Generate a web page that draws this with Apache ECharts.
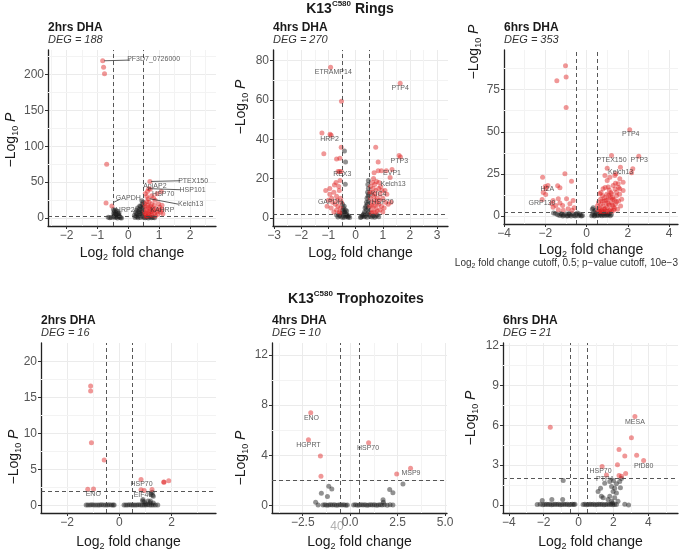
<!DOCTYPE html>
<html>
<head>
<meta charset="utf-8">
<script src="https://cdn.jsdelivr.net/npm/echarts@6.0.0/dist/echarts.min.js"></script>
<style>
  html, body { margin: 0; padding: 0; background: #fff; }
  #main { width: 680px; height: 552px; }
</style>
</head>
<body>
<div id="main"></div>
<script type="text/javascript">
// ---- data: [log2 fold change, -log10 p] ----
// K13 C580 rings, 2 hrs DHA
var r2Black = [[-0.48,12],[-0.45,10],[-0.42,8],[-0.47,7],[-0.40,5],[-0.35,9],[-0.33,6],[-0.30,4],[-0.45,3],[-0.38,2],
  [-0.28,1.5],[-0.25,0.5],[-0.42,0.8],[-0.48,1.5],[-0.35,0.3],[-0.22,0.2],[-0.30,7],[-0.40,11],[-0.46,5],[-0.31,2.5],
  [-0.55,1],[-0.6,0.5],[-0.65,1.2],
  [0.22,1],[0.25,3],[0.28,6],[0.3,2],[0.33,9],[0.35,4],[0.36,12],[0.38,7],[0.4,16],[0.4,1],[0.42,10],[0.43,5],
  [0.45,19],[0.45,13],[0.46,2.5],[0.47,8],[0.48,22],[0.48,15],[0.32,0.5],[0.27,11],[0.44,24],[0.5,1],[0.55,0.5],
  [0.6,1.2],[0.65,0.3],[0.7,1.5],[0.75,0.6],[0.8,1],[0.85,0.4],[0.3,14],[0.37,17],[0.24,8],[0.2,4]];
var r2Red = [[-0.83,219],[-0.80,210],[-0.77,201],[-0.70,75],[-0.72,21],[-0.53,17],
  [0.70,51],[0.71,40],[0.66,41],[0.55,34],[0.62,37],[0.93,34],[1.07,37],[0.76,31],[0.65,27],[0.87,25],[0.98,20],
  [0.76,20],[0.60,23],[1.09,18],[0.55,16],[0.71,13],[0.82,11],[0.93,9],[0.52,9],[0.65,6.5],[0.76,4],[0.55,4],
  [0.58,12],[0.62,18],[0.68,9],[0.72,16],[0.8,14],[0.85,7],[0.9,13],[1.0,11],[1.05,8],[0.57,2.5],[0.63,3],[0.7,5],
  [0.78,8],[0.88,3],[0.95,5],[1.1,12],[0.53,20],[0.67,22],[0.82,28],[0.6,30],[1.02,15],[0.74,10],[0.56,6],[0.6,10],
  [0.66,15],[0.84,18],[1.12,6]];
var r2Labels = [['PF3D7_0726000',0.82,221],['PTEX150',2.1,52],['HSP101',2.08,39],['ApiAP2',0.86,44],['HSP70',1.13,33],
  ['Kelch13',2.02,19],['GAPDH',0.0,28],['HRP2',-0.1,11],['KAHRP',1.1,11]];
var r2Links = [[[-0.78,219],[0.06,220]],[[0.74,51],[1.68,52]],[[0.68,41],[1.68,39.5]],[[0.69,27],[1.62,19.4]],[[-0.47,22],[-0.28,26]]];

// K13 C580 rings, 4 hrs DHA
var r4Black = [[-0.48,7],[-0.45,5],[-0.42,6],[-0.4,3],[-0.38,4],[-0.35,2],[-0.32,1.5],[-0.3,0.8],[-0.28,0.3],[-0.25,1],
  [-0.22,0.2],[-0.45,1.2],[-0.4,0.4],[-0.5,2.5],[-0.43,3],[-0.36,1],[-0.6,1.2],[-0.65,0.5],[-0.55,0.8],[-0.7,1.5],
  [-0.48,0.2],[-0.33,3.5],[-0.47,4],[-0.41,34],[-0.37,28.5],[-0.38,17.1],
  [0.47,19],[0.45,17],[0.47,15],[0.44,13],[0.46,11],[0.42,10],[0.4,8],[0.43,7],[0.38,6],[0.35,5],[0.4,4],[0.33,3],
  [0.3,2],[0.28,1.5],[0.25,1],[0.2,0.5],[0.18,0.2],[0.36,1],[0.44,2],[0.48,3],[0.47,5],[0.5,1.5],[0.55,1],[0.6,0.5],
  [0.65,1.2],[0.7,0.3],[0.75,1],[0.8,1.5],[0.85,0.6],[0.48,8.5],[0.42,0.3],[0.32,0.6],[0.48,12]];
var r4Red = [[-0.92,76.6],[-0.52,59.4],[1.64,68.5],[-1.24,43.2],[-0.94,42.5],[-0.9,42],[-1.17,32.7],[-0.53,36],
  [-0.7,30],[-0.58,30.4],[-0.65,23.6],[-0.59,23.6],[-0.53,23.6],[-0.78,16.7],[0.74,36],[0.83,28.5],[1.6,31.7],[1.65,31],
  [1.34,24.6],[0.95,24],[1.13,24],[0.83,24],[0.68,23],[1.27,20.6],[0.86,18],[0.77,18.5],
  [-1.1,14],[-0.95,12],[-0.8,13],[-0.7,11],[-0.6,14],[-0.55,10],[-1.0,9],[-0.85,8],[-0.75,7],[-0.65,6],[-0.55,5],
  [-0.9,5],[-0.7,4],[-0.6,3],[-0.8,3],[-0.52,8],[-1.05,6],[-0.95,15],[-0.72,18],[-0.62,16],[-0.57,19],[-0.67,9],
  [-0.88,10],[-0.58,2.5],
  [0.55,16],[0.6,13],[0.65,15],[0.7,12],[0.75,14],[0.8,10],[0.9,12],[1.0,10],[1.1,8],[1.2,7],[0.55,10],[0.62,8],
  [0.68,6],[0.75,5],[0.85,7],[0.95,6],[0.58,4],[0.65,3],[0.72,9],[0.8,3.5],[0.9,4],[1.05,5],[0.52,6],[0.57,2.5],
  [0.67,11],[0.78,7.5],[0.88,9],[0.97,14],[1.15,12],[0.62,18],[0.7,17],[1.3,8],[0.85,15],[0.53,13],[0.6,6.5],
  [0.73,2.8],[1.0,3],[0.92,16],[1.08,14],[0.66,20]];
var r4Labels = [['ETRAMP14',-0.82,74.4],['PTP4',1.64,66.2],['HRP2',-0.96,40.3],['PTP3',1.61,29],['REX3',-0.49,22.1],
  ['EVP1',1.34,22.6],['Kelch13',1.38,17.2],['KIC4',0.85,12.3],['GAPDH',-0.93,8.3],['HSP70',0.99,8.1]];

// K13 C580 rings, 6 hrs DHA
var r6Black = [[-1.5,1.5],[-1.4,0.8],[-1.3,0.3],[-1.2,1],[-1.1,0.5],[-1.0,1.2],[-0.9,0.2],[-0.8,0.7],[-0.7,1.4],
  [-0.6,0.4],[-0.5,1],[-0.4,0.2],[-0.3,0.6],[-0.25,0.1],[-0.45,1.8],[-0.35,1.2],[-0.2,0.3],[-1.6,1.8],[-0.55,0],
  [-0.75,0],[-0.95,0],[-1.15,0],[-0.85,1.6],[-1.25,1.6],
  [0.25,0.2],[0.3,1],[0.35,2.5],[0.28,4],[0.4,0.5],[0.45,1.5],[0.5,0.3],[0.55,1],[0.6,0.4],[0.65,1.8],[0.7,0.8],
  [0.75,0.2],[0.8,1.3],[0.85,0.5],[0.9,1.7],[0.95,0.3],[1.0,1.0],[1.05,0.6],[1.1,1.5],[1.15,0.2],[1.2,0.9],
  [0.42,3.5],[0.32,5],[0.38,0]];
var r6Red = [[-1.02,89.2],[-1.44,80.2],[-0.99,82.5],[-0.99,64.4],[-1.05,25.1],[-0.73,20.7],[-2.13,23.1],[-1.87,18.2],
  [-1.97,16.2],[-2.0,17.5],[-2.1,14],[-2.15,9.9],[-1.98,12.8],[-1.4,18],[-1.29,16.8],[-1.62,9.3],[-1.37,10.3],
  [-1.29,7.7],[-1.16,6.3],[-0.97,10.3],[-0.81,7.3],[-0.65,9.3],[-1.49,6.3],[-1.69,7.3],[-1.13,3.4],[-0.89,4.4],
  [-1.37,3.8],[-1.62,5.3],[-0.6,5],[-0.7,3.5],
  [2.09,51.2],[1.21,35.9],[2.53,35.5],[1.64,29],[2.24,28],[1.0,28.4],[2.18,25.7],[1.42,25.1],[0.89,24.1],[1.0,21.1],
  [1.13,23.1],[1.37,24.1],[1.61,22.1],[1.77,20.1],[1.53,19.2],[1.29,18.2],[1.05,17.2],[0.8,16.2],[0.64,13.3],
  [1.61,16.2],[1.77,15.2],[1.45,14.2],[1.21,13.3],
  [0.55,3],[0.6,5],[0.65,4],[0.7,7],[0.75,3.5],[0.8,6],[0.85,9],[0.9,4.5],[0.95,7.5],[1.0,5],[1.05,10],[1.1,6.5],
  [1.15,3.8],[1.2,8],[1.25,11],[1.3,5.5],[1.35,9.5],[1.4,7],[1.45,12],[1.5,4],[0.58,8],[0.68,10],[0.78,12],[0.88,11],
  [0.98,13],[1.08,12.5],[1.18,14],[1.28,10],[1.38,16],[0.62,2.5],[0.72,2.8],[0.82,2.5],[0.92,3],[1.02,2.6],[1.12,3.2],
  [1.22,2.8],[1.32,3.5],[0.52,6],[0.95,9.5],[1.05,7.5],[1.15,11],[1.25,6.5],[1.35,4.5],[1.55,9],[1.6,13],[1.65,6],
  [1.45,8.5],[0.75,9],[0.85,4],[1.1,15.5],[0.7,14],[0.9,17],[1.7,10],[1.55,17],[1.4,19.5]];
var r6Labels = [['PTP4',2.14,48.4],['PTEX150',1.21,33],['PTP3',2.55,33],['Kelch13',1.65,26],['H2A',-1.9,15.8],['GRP130',-2.16,7.9]];

// K13 C580 trophozoites, 2 hrs DHA
var t2Black = [[-1.27,0.03],[-1.2,0.05],[-1.12,0.02],[-1.05,0.06],[-0.98,0.03],[-0.9,0.05],[-0.82,0.02],[-0.75,0.04],
  [-0.68,0.06],[-0.6,0.02],[-0.52,0.05],[-0.45,0.03],[-0.38,0.06],[-0.3,0.02],[-0.24,0.04],[-0.2,0.03],
  [0.18,0.03],[0.25,0.05],[0.32,0.02],[0.39,0.06],[0.46,0.03],[0.53,0.05],[0.6,0.02],[0.67,0.04],[0.74,0.06],
  [0.81,0.03],[0.88,0.05],[0.95,0.02],[1.02,0.04],[1.09,0.06],[1.16,0.03],[1.23,0.05],[1.3,0.02],[1.38,0.04],
  [1.47,0.03],[0.95,0.5],[0.9,0.8],[1.18,0.35],[1.26,1.8],[1.27,1.4],[1.0,0.2],[1.3,0.3],[1.2,1.6],[1.1,0.6],
  [1.19,0.58],[1.3,1.25],[0.89,0.58]];
var t2Red = [[-1.1,16.6],[-1.1,15.9],[-1.07,8.7],[-0.58,6.3],[-1.21,2.23],[-0.99,2.28],[0.83,3.6],[0.83,2.15],
  [0.95,2.05],[1.25,2.2],[1.7,3.25],[1.71,3.2],[1.89,3.4]];
var t2Labels = [['ENO',-1.0,1.57],['HSP70',0.85,2.9],['EIF4E',0.92,1.38]];

// K13 C580 trophozoites, 4 hrs DHA
var t4Black = [[-1.13,1.54],[-0.97,1.31],[-1.2,0.72],[-1.52,0.97],[-1.82,0.26],[-1.69,0.03],
  [-1.43,0.03],[-1.33,0.05],[-1.23,0.02],[-1.13,0.04],[-1.03,0.06],[-0.93,0.03],[-0.83,0.05],[-0.73,0.02],
  [-0.63,0.04],[-0.53,0.06],[-0.43,0.03],[-0.33,0.05],[-0.23,0.02],[-0.15,0.04],
  [0.18,0.03],[0.28,0.05],[0.38,0.02],[0.48,0.04],[0.58,0.06],[0.68,0.03],[0.78,0.05],[0.88,0.02],[0.98,0.04],
  [1.08,0.06],[1.18,0.03],[1.28,0.05],[1.38,0.02],[1.48,0.04],[1.58,0.06],[1.68,0.03],[1.8,0.05],[1.95,0.02],
  [2.1,0.05],[2.25,0.03],[2.08,1.28],[2.25,1.02],[2.78,1.72],[1.73,0.46],[1.75,0.26]];
var t4Red = [[-2.08,7.4],[-2.2,5.23],[-1.57,3.95],[-1.54,2.33],[0.97,5.0],[2.45,2.5],[3.18,2.97]];
var t4Labels = [['ENO',-2.04,6.95],['HGPRT',-2.2,4.82],['HSP70',0.94,4.54],['MSP9',3.2,2.6]];

// K13 C580 trophozoites, 6 hrs DHA
var t6Black = [[-0.88,1.85],[-2.08,0.34],[-0.91,0.42],[-1.53,0.42],
  [-2.37,0.03],[-2.2,0.05],[-2.05,0.02],[-1.95,0.04],[-1.85,0.06],[-1.75,0.03],[-1.65,0.05],[-1.55,0.02],
  [-1.45,0.04],[-1.35,0.06],[-1.25,0.03],[-1.15,0.05],[-1.05,0.02],[-0.95,0.04],[-0.85,0.06],[-0.75,0.03],
  [-0.65,0.05],[-0.55,0.02],[-0.45,0.04],[-0.35,0.06],[-0.27,0.03],[-0.21,0.05],
  [0.26,0.03],[0.36,0.05],[0.46,0.02],[0.56,0.04],[0.66,0.06],[0.76,0.03],[0.86,0.05],[0.96,0.02],[1.06,0.04],
  [1.16,0.06],[1.26,0.03],[1.36,0.05],[1.46,0.02],[1.56,0.04],[1.66,0.06],[1.76,0.03],[1.86,0.05],[1.96,0.02],
  [2.06,0.04],[2.17,0.03],
  [1.12,1.02],[1.26,1.27],[1.5,1.63],[1.79,1.76],[1.89,1.39],[2.07,1.27],[1.98,1.02],[2.17,0.9],[2.17,1.6],
  [2.36,1.76],[2.46,2.0],[1.41,0.54],[1.79,0.66],[2.07,0.54],[1.89,0.29],[2.26,0.29],[1.69,0.42],[1.31,0.66],
  [2.65,0.05],[2.87,0],[1.95,0.15],[2.0,1.85],[2.4,1.3]];
var t6Red = [[-1.62,5.85],[3.23,6.66],[3.03,5.05],[2.32,4.17],[2.65,3.68],[3.33,3.75],[3.73,3.34],[1.35,2.9],
  [2.23,3.02],[1.6,2.25],[2.32,2.22],[2.46,2.17],[2.7,2.37]];
var t6Labels = [['MESA',3.23,6.22],['PfD80',3.73,2.93],['HSP70',1.26,2.56],['PTP4',1.5,1.93]];

// ---- axis breaks ----
var r2XTicks = [-2,-1,0,1,2],        r2YTicks = [0,50,100,150,200];
var r4XTicks = [-3,-2,-1,0,1,2,3],   r4YTicks = [0,20,40,60,80];
var r6XTicks = [-4,-2,0,2,4],        r6YTicks = [0,25,50,75];
var t2XTicks = [-2,0,2],             t2YTicks = [0,5,10,15,20];
var t4XTicks = [-2.5,0,2.5,5],       t4YTicks = [0,4,8,12];
var t6XTicks = [-4,-2,0,2,4],        t6YTicks = [0,3,6,9,12];

var r2XMinor = [-2.5,-1.5,-0.5,0.5,1.5,2.5], r2YMinor = [25,75,125,175,225];
var r4XMinor = [-2.5,-1.5,-0.5,0.5,1.5,2.5], r4YMinor = [10,30,50,70];
var r6XMinor = [-3,-1,1,3],                  r6YMinor = [12.5,37.5,62.5,87.5];
var t2XMinor = [-1,1,3],                     t2YMinor = [2.5,7.5,12.5,17.5];
var t4XMinor = [-3.75,-1.25,1.25,3.75],      t4YMinor = [2,6,10];
var t6XMinor = [-3,-1,1,3,5],                t6YMinor = [1.5,4.5,7.5,10.5];

var fcCutoff = 0.5, pCutoff = 2;
var panelTitles = ['2hrs DHA','4hrs DHA','6hrs DHA','2hrs DHA','4hrs DHA','6hrs DHA'];
var degCounts = [188, 270, 353, 16, 10, 21];

// ---- layout ----
var panels = [
  {black:r2Black, red:r2Red, labels:r2Labels, links:r2Links, xt:r2XTicks, yt:r2YTicks, xm:r2XMinor, ym:r2YMinor,
   xr:[-2.6,2.84], yr:[-11,234], box:[48,50,168,176], yTitle:[11,140], gap:18},
  {black:r4Black, red:r4Red, labels:r4Labels, links:[], xt:r4XTicks, yt:r4YTicks, xm:r4XMinor, ym:r4YMinor,
   xr:[-3.04,3.4], yr:[-4.1,85.4], box:[273,50,175,176], yTitle:[241,107], gap:18},
  {black:r6Black, red:r6Red, labels:r6Labels, links:[], xt:r6XTicks, yt:r6YTicks, xm:r6XMinor, ym:r6YMinor,
   xr:[-4.0,4.43], yr:[-4.7,98.5], box:[504,50,174,174], yTitle:[474,52], gap:17},
  {black:t2Black, red:t2Red, labels:t2Labels, links:[], xt:t2XTicks, yt:t2YTicks, xm:t2XMinor, ym:t2YMinor,
   xr:[-3.0,3.7], yr:[-1.08,22.6], box:[41,343,175,175], yTitle:[14,457], gap:20},
  {black:t4Black, red:t4Red, labels:t4Labels, links:[], xt:t4XTicks, yt:t4YTicks, xm:t4XMinor, ym:t4YMinor,
   xr:[-4.12,5.1], yr:[-0.6,12.95], box:[272,343,175,175], yTitle:[241,458], gap:20, dec:1},
  {black:t6Black, red:t6Red, labels:t6Labels, links:[], xt:t6XTicks, yt:t6YTicks, xm:t6XMinor, ym:t6YMinor,
   xr:[-4.33,5.7], yr:[-0.6,12.18], box:[503,343,175,174], yTitle:[471,418], gap:20}
];

var FONT = '"Liberation Sans", Arial, sans-serif';
var grids = [], xAxes = [], yAxes = [], series = [], graphics = [];

function minus(s) { return String(s).replace('-', '\u2212'); }

panels.forEach(function (p, i) {
  grids.push({left:p.box[0], top:p.box[1], width:p.box[2], height:p.box[3], containLabel:false});
  var line = {show:true, onZero:false, lineStyle:{color:'#222', width:1.3}};
  var split = {show:true, lineStyle:{color:'#ebebeb', width:1}};
  xAxes.push({
    gridIndex:i, type:'value', min:p.xr[0], max:p.xr[1],
    axisLine:line, splitLine:split,
    axisTick:{show:true, length:3, customValues:p.xt, lineStyle:{color:'#333'}},
    axisLabel:{customValues:p.xt, margin:4, color:'#555', fontSize:12, fontFamily:FONT,
      formatter:function (v) { return minus(p.dec ? v.toFixed(p.dec) : v); }},
    name:'Log{sub|2} fold change', nameLocation:'middle', nameGap:p.gap,
    nameTextStyle:{fontSize:14, color:'#1a1a1a', fontFamily:FONT, lineHeight:18,
      rich:{sub:{fontSize:9, verticalAlign:'bottom', lineHeight:9, color:'#1a1a1a', fontFamily:FONT}}}
  });
  yAxes.push({
    gridIndex:i, type:'value', min:p.yr[0], max:p.yr[1],
    axisLine:line, splitLine:split,
    axisTick:{show:true, length:3, customValues:p.yt, lineStyle:{color:'#333'}},
    axisLabel:{customValues:p.yt, margin:4, color:'#555', fontSize:12, fontFamily:FONT,
      formatter:function (v) { return String(v); }}
  });

  var minorLines = p.xm.map(function (v) { return {xAxis:v}; })
    .concat(p.ym.map(function (v) { return {yAxis:v}; }));
  series.push({
    type:'scatter', xAxisIndex:i, yAxisIndex:i, data:p.black, symbolSize:5, z:2,
    itemStyle:{color:'rgba(28,28,28,0.6)'},
    markLine:{silent:true, z:1, symbol:['none','none'], label:{show:false}, animation:false,
      lineStyle:{color:'#f3f3f3', width:1, type:'solid'}, data:minorLines}
  });
  series.push({
    type:'scatter', xAxisIndex:i, yAxisIndex:i, data:p.red, symbolSize:5, z:3,
    itemStyle:{color:'rgba(222,30,30,0.58)'},
    markLine:{silent:true, z:4, symbol:['none','none'], label:{show:false}, animation:false,
      lineStyle:{color:'#444', width:0.9, type:[4,3]},
      data:[{xAxis:-fcCutoff},{xAxis:fcCutoff},{yAxis:pCutoff}]}
  });
  // gene labels, with connectors where the picture has them
  series.push({
    type:'scatter', xAxisIndex:i, yAxisIndex:i, symbolSize:1, z:6, silent:true,
    itemStyle:{color:'rgba(0,0,0,0)'},
    data:p.labels.map(function (l) { return {name:l[0], value:[l[1], l[2]]}; }),
    label:{show:true, position:'inside', formatter:'{b}', fontSize:7, color:'#333', fontFamily:FONT},
    markLine:{silent:true, z:5, symbol:['none','none'], label:{show:false}, animation:false,
      lineStyle:{color:'#333', width:0.8, type:'solid'},
      data:p.links.map(function (k) { return [{coord:k[0]},{coord:k[1]}]; })}
  });

  // panel title and subtitle
  graphics.push({type:'text', x:p.box[0], y:p.box[1] - 22, style:{text:panelTitles[i],
    font:'bold 12px ' + FONT, fill:'#1a1a1a', align:'left', verticalAlign:'middle'}});
  graphics.push({type:'text', x:p.box[0], y:p.box[1] - 10, style:{text:'DEG = ' + degCounts[i],
    font:'italic 11px ' + FONT, fill:'#333', align:'left', verticalAlign:'middle'}});
  // y axis title
  graphics.push({type:'text', x:p.yTitle[0], y:p.yTitle[1], rotation:Math.PI / 2, style:{
    text:'\u2212Log{sub|10} {it|P}', font:'14px ' + FONT, fill:'#1a1a1a', lineHeight:18,
    align:'center', verticalAlign:'middle',
    rich:{sub:{fontSize:9, verticalAlign:'bottom', lineHeight:9, fill:'#1a1a1a', fontFamily:FONT},
          it:{fontSize:14, fontStyle:'italic', fill:'#1a1a1a', fontFamily:FONT, lineHeight:18}}}});
});

// figure titles and caption
graphics.push({type:'text', x:350, y:9, style:{text:'K13{sup|C580} Rings', font:'bold 14px ' + FONT,
  fill:'#1a1a1a', align:'center', verticalAlign:'middle', lineHeight:18,
  rich:{sup:{fontSize:8, fontWeight:'bold', verticalAlign:'top', lineHeight:12, fill:'#1a1a1a', fontFamily:FONT}}}});
graphics.push({type:'text', x:356, y:299, style:{text:'K13{sup|C580} Trophozoites', font:'bold 14px ' + FONT,
  fill:'#1a1a1a', align:'center', verticalAlign:'middle', lineHeight:18,
  rich:{sup:{fontSize:8, fontWeight:'bold', verticalAlign:'top', lineHeight:12, fill:'#1a1a1a', fontFamily:FONT}}}});
graphics.push({type:'text', x:678, y:263, style:{
  text:'Log{sub|2} fold change cutoff, 0.5; p\u2212value cutoff, 10e\u22123', font:'10px ' + FONT,
  fill:'#333', align:'right', verticalAlign:'middle', lineHeight:13,
  rich:{sub:{fontSize:7, verticalAlign:'bottom', lineHeight:8, fill:'#333', fontFamily:FONT}}}});
graphics.push({type:'text', x:337, y:527, style:{text:'40', font:'12px ' + FONT, fill:'#b0b0b0',
  align:'center', verticalAlign:'middle'}});

var myChart = echarts.init(document.getElementById('main'), null, {renderer:'canvas'});
myChart.setOption({
  animation:false,
  backgroundColor:'#fff',
  grid:grids, xAxis:xAxes, yAxis:yAxes, series:series, graphic:graphics
});
</script>
</body>
</html>
